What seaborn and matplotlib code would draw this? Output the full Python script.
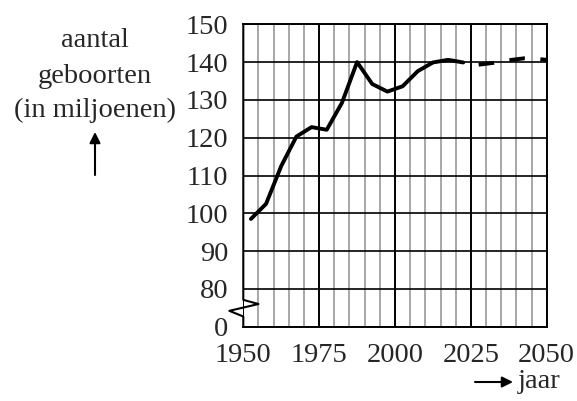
import numpy as np
import matplotlib
matplotlib.use('Agg')
import matplotlib.pyplot as plt
import seaborn as sns
from matplotlib.ticker import MultipleLocator

# ── data ──
years_obs = [1952.5, 1957.5, 1962.5, 1967.5, 1972.5, 1977.5, 1982.5, 1987.5,
             1992.5, 1997.5, 2002.5, 2007.5, 2012.5, 2017.5, 2022.5]
births_obs = [98.5, 102.5, 112.5, 120.3, 122.8, 122.1, 129.2, 140.0,
              134.2, 132.2, 133.6, 137.6, 139.9, 140.6, 139.9]
years_proj = [2022.5, 2027.5, 2032.5, 2037.5, 2042.5, 2047.5, 2050]
births_proj = [139.9, 139.3, 139.8, 140.5, 141.0, 140.8, 140.6]

ytick_pos = [70, 80, 90, 100, 110, 120, 130, 140, 150]
ytick_lab = ['0', '80', '90', '100', '110', '120', '130', '140', '150']
xtick_pos = [1950, 1975, 2000, 2025, 2050]

sns.set_style('white')
plt.rcParams['font.family'] = ['Liberation Serif', 'DejaVu Serif']
plt.rcParams['font.size'] = 20.5

W, H = 577, 401
fig = plt.figure(figsize=(W / 100, H / 100), dpi=100)
ax = fig.add_axes([243.3 / W, 1 - 326.7 / H, (546.7 - 243.3) / W, (326.7 - 24.3) / H])

ax.set_xlim(1950, 2050)
ax.set_ylim(70, 150)

# grid
ax.xaxis.set_minor_locator(MultipleLocator(5))
ax.set_xticks(xtick_pos)
ax.set_yticks(ytick_pos)
ax.set_yticklabels(ytick_lab)
ax.grid(which='minor', axis='x', color='#8f8f8f', lw=1.1)
ax.grid(which='major', axis='x', color='black', lw=1.4)
ax.grid(which='major', axis='y', color='black', lw=1.2)
ax.set_axisbelow(True)

ax.tick_params(axis='both', which='major', direction='out', length=7, width=1.4,
               color='black', labelsize=20.5)
ax.tick_params(axis='x', which='major', pad=5)
ax.tick_params(axis='y', which='major', pad=4)
ax.tick_params(axis='x', which='minor', length=0)

for side in ['top', 'right', 'bottom']:
    ax.spines[side].set_color('black')
    ax.spines[side].set_linewidth(1.4)
ax.spines['left'].set_visible(False)

# left axis with break
brk_x = [1950, 1950, 1955, 1945.4, 1950, 1950]
brk_y = [150, 77.1, 76.0, 74.2, 72.7, 70]
ax.plot(brk_x, brk_y, color='black', lw=1.5, clip_on=False, zorder=3)

# data lines
sns.lineplot(x=years_obs, y=births_obs, ax=ax, color='black', lw=2.8, zorder=4)
sns.lineplot(x=years_proj, y=births_proj, ax=ax, color='black', lw=2.8, zorder=4,
             linestyle=(4, (4, 4)))
ax.set_xlabel('')
ax.set_ylabel('')

# left label
cx = 95 / W
for txt, base in [('aantal', 46.7), ('geboorten', 83.3), ('(in miljoenen)', 116.7)]:
    fig.text(cx, 1 - base / H, txt, ha='center', va='baseline', fontsize=20.5)
ax.annotate('', xy=(cx, 1 - 132 / H), xytext=(cx, 1 - 175 / H),
            xycoords='figure fraction', textcoords='figure fraction',
            arrowprops=dict(arrowstyle='-|>', color='black', lw=1.5,
                            mutation_scale=16, shrinkA=0, shrinkB=0))

# x label
ax.annotate('', xy=(513 / W, 1 - 382 / H), xytext=(475 / W, 1 - 382 / H),
            xycoords='figure fraction', textcoords='figure fraction',
            arrowprops=dict(arrowstyle='-|>', color='black', lw=1.5,
                            mutation_scale=16, shrinkA=0, shrinkB=0))
fig.text(518 / W, 1 - 388 / H, 'jaar', ha='left', va='baseline', fontsize=20.5)

fig.savefig('out.png', dpi=100)
